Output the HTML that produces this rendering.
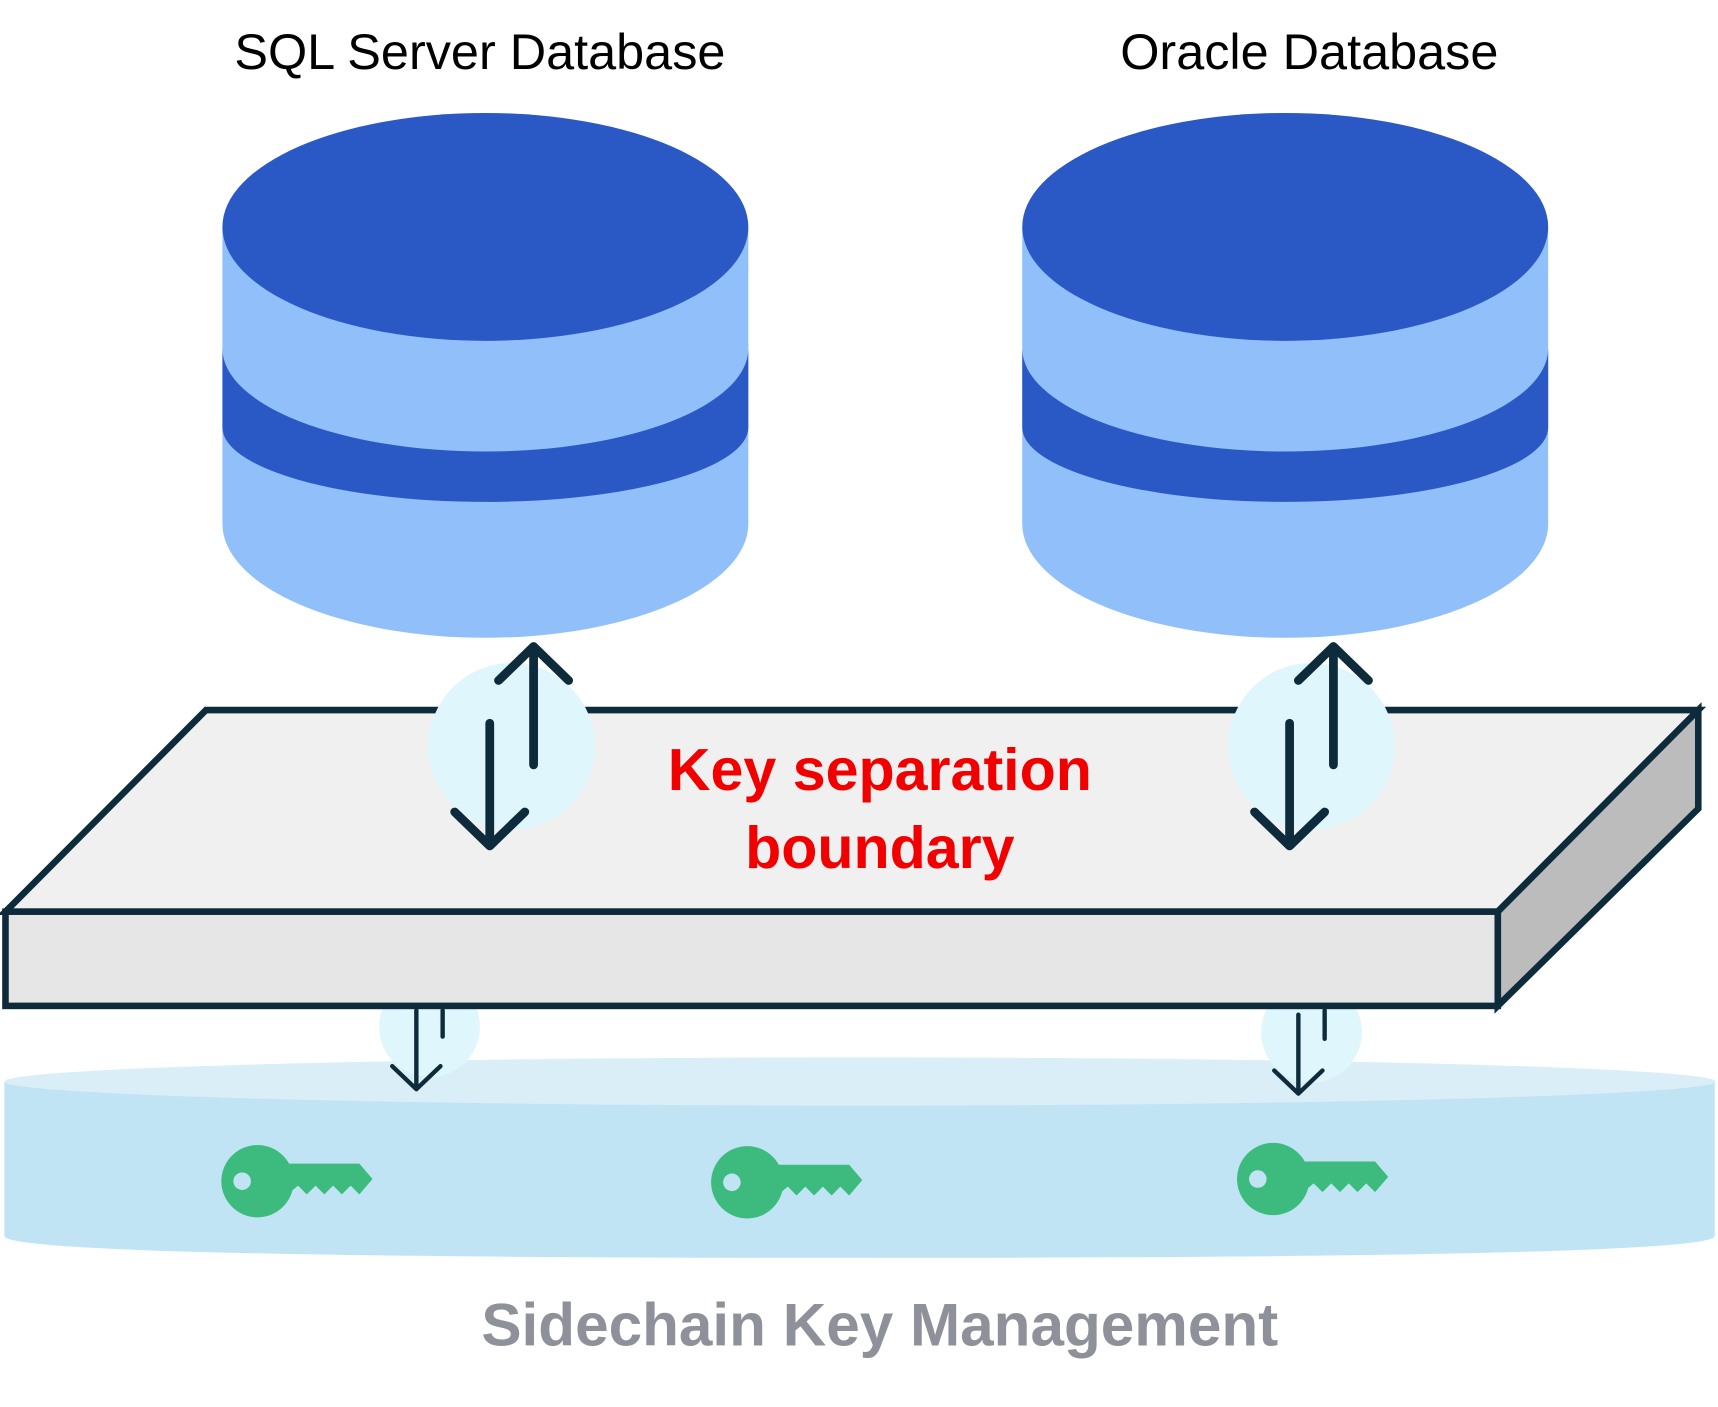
<!DOCTYPE html>
<html><head><meta charset="utf-8"><style>html,body{margin:0;padding:0;background:#fff}svg{display:block}</style></head><body>
<svg width="1718" height="1407" viewBox="0 0 1568 1284" xmlns="http://www.w3.org/2000/svg">
<defs>
<g id="cyl">
<path d="M-240,207 L-240,478 A240,104 0 0 0 240,478 L240,207 Z" fill="#90bff9"/>
<path d="M-240,318 A240,94 0 0 0 240,318 L240,390 A240,68 0 0 1 -240,390 Z" fill="#2a59c5"/>
<ellipse cx="0" cy="207" rx="240" ry="104" fill="#2a59c5"/>
</g>
<g id="key" fill="#3dbb7e">
<circle cx="0" cy="0" r="33"/>
<path d="M20,-16 L93,-16 L105,-2 L93,12 L85,4 L77,12 L69,4 L61,12 L53,4 L45,12 L37,4 L25,14 Z"/>
<circle cx="-14" cy="0" r="8" fill="#c0e4f4"/>
</g>
</defs>
<g font-family="Liberation Sans, sans-serif" font-size="46" fill="#000" text-anchor="middle">
<text x="438" y="63">SQL Server Database</text>
<text x="1195" y="63">Oracle Database</text>
</g>
<use href="#cyl" x="443" y="0"/>
<use href="#cyl" x="1173" y="0"/>
<!-- bottom disk -->
<path d="M4,987 L4,1128 Q4,1148 785,1148 Q1565,1148 1565,1128 L1565,987 Z" fill="#c0e4f4"/>
<ellipse cx="785" cy="987" rx="781" ry="22" fill="#daeef8"/>
<g fill="#dff7fc">
<circle cx="392" cy="937" r="46"/>
<circle cx="1197" cy="942" r="46"/>
</g>
<!-- slab -->
<g stroke="#0d2b3a" stroke-width="6" stroke-linejoin="miter">
<polygon points="188,648 1550,648 1367,832 5,832" fill="#f0f0f0"/>
<polygon points="1367,832 1550,648 1550,738 1367,918" fill="#bcbcbc"/>
<rect x="5" y="832" width="1362" height="86" fill="#e6e6e6"/>
</g>
<g fill="#dff7fc">
<circle cx="467" cy="681" r="76"/>
<circle cx="1197" cy="681" r="76"/>
</g>
<g stroke="#0d2b3a" stroke-width="8" stroke-linecap="round" stroke-linejoin="round" fill="none">
<path d="M487,698 L487,590 M455,621 L487,590 L519,621"/>
<path d="M447,660 L447,772 M415,741 L447,772 L479,741"/>
<path d="M1217,698 L1217,590 M1185,621 L1217,590 L1249,621"/>
<path d="M1177,660 L1177,772 M1145,741 L1177,772 L1209,741"/>
</g>
<g stroke="#0d2b3a" stroke-width="4" stroke-linecap="round" stroke-linejoin="round" fill="none">
<path d="M380,922 L380,994 M358,973 L380,994 L402,973 M404,922 L404,946"/>
<path d="M1185,926 L1185,998 M1163,977 L1185,998 L1207,977 M1209,922 L1209,948"/>
</g>
<use href="#key" x="235" y="1078"/>
<use href="#key" x="682" y="1079"/>
<use href="#key" x="1162" y="1076"/>
<g font-family="Liberation Sans, sans-serif" font-weight="bold" text-anchor="middle">
<text x="803" y="721" font-size="54" fill="#f20000">Key separation</text>
<text x="803" y="792" font-size="54" fill="#f20000">boundary</text>
<text x="803" y="1228" font-size="55" fill="#8e9199">Sidechain Key Management</text>
</g>
</svg>
</body></html>
